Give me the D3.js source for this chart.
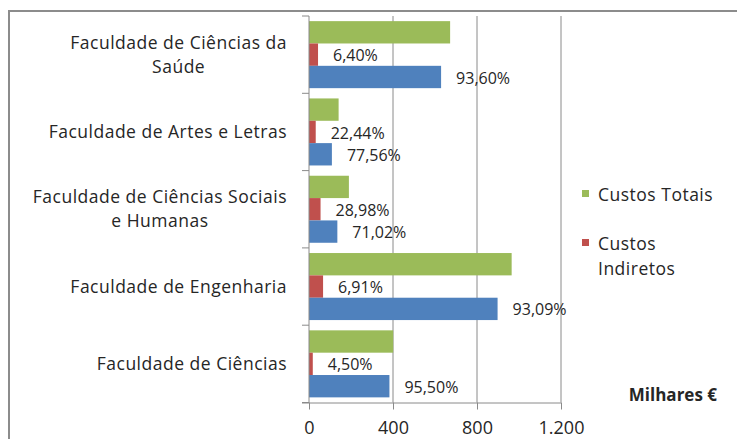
<!DOCTYPE html>
<html lang="pt">
  <head>
    <meta charset="utf-8" />
    <title>Custos por Faculdade</title>
    <script src="https://d3js.org/d3.v7.js"></script>
    <style>
      body { margin: 0; background: #fff; }
      text { font-family: "Open Sans", "Noto Sans", sans-serif; fill: #262626; }
    </style>
  </head>
  <body>
    <div id="graph"></div>
    <script>

    // data (milhares de euros)
    var categories = [
      ["Faculdade de Ciências da", "Saúde"],
      ["Faculdade de Artes e Letras"],
      ["Faculdade de Ciências Sociais", "e Humanas"],
      ["Faculdade de Engenharia"],
      ["Faculdade de Ciências"]
    ];
    var custosTotais = [672, 141, 190, 965, 401];
    var custosIndiretos = [43, 32, 55, 67, 18];
    var custosDiretos = [629, 109, 135, 898, 383];
    var pctIndiretos = [6.40, 22.44, 28.98, 6.91, 4.50];
    var pctDiretos = [93.60, 77.56, 71.02, 93.09, 95.50];
    var xTicks = [0, 400, 800, 1200];

    var w = 737, h = 439;
    var colors = {totais: "#9BBB59", indiretos: "#C0504D", diretos: "#4F81BD"};

    var pt = d3.formatLocale({decimal: ",", thousands: ".", grouping: [3], currency: ["", " €"]});
    var fmtTick = pt.format(",d");
    var fmtPct = pt.format(".2f");

    var svg = d3.select("#graph")
      .append("svg")
        .attr("width", w)
        .attr("height", h);

    // chart border (runs off the right and bottom edges)
    svg.append("rect")
      .attr("x", 9).attr("y", 11)
      .attr("width", 800).attr("height", 500)
      .attr("fill", "none")
      .attr("stroke", "#8c8c8c")
      .attr("stroke-width", 2);

    var keys = categories.map(c => c.join(" "));

    var x = d3.scaleLinear()
      .domain([0, 1200])
      .range([309, 561]);

    var y0 = d3.scaleBand()
      .domain(keys)
      .range([16, 402.5])
      .padding(0);

    var y1 = d3.scaleBand()
      .domain(["totais", "indiretos", "diretos"])
      .range([0, y0.bandwidth()])
      .paddingInner(0)
      .paddingOuter(0.23);

    // gridlines
    svg.append("g")
      .selectAll("line")
      .data(xTicks.filter(d => d > 0))
      .join("line")
        .attr("x1", d => x(d)).attr("x2", d => x(d))
        .attr("y1", y0.range()[0]).attr("y2", y0.range()[1])
        .attr("stroke", "#8a8a8a")
        .attr("stroke-width", 1);

    // bars
    var rows = keys.map((k, i) => ({
      key: k,
      values: [
        {s: "totais", v: custosTotais[i]},
        {s: "indiretos", v: custosIndiretos[i], pct: pctIndiretos[i]},
        {s: "diretos", v: custosDiretos[i], pct: pctDiretos[i]}
      ]
    }));

    var groups = svg.append("g")
      .selectAll("g")
      .data(rows)
      .join("g")
        .attr("transform", d => `translate(0,${y0(d.key)})`);

    groups.selectAll("rect")
      .data(d => d.values)
      .join("rect")
        .attr("x", x(0))
        .attr("y", d => y1(d.s))
        .attr("width", d => x(d.v) - x(0))
        .attr("height", y1.bandwidth())
        .attr("fill", d => colors[d.s]);

    groups.selectAll("text.pct")
      .data(d => d.values.filter(v => v.pct != null))
      .join("text")
        .attr("class", "pct")
        .attr("x", d => x(d.v) + 15)
        .attr("y", d => y1(d.s) + y1.bandwidth() / 2 + 1)
        .attr("dy", "0.35em")
        .style("font-size", "16px")
        .text(d => fmtPct(d.pct) + "%");

    // y axis line and ticks at band edges
    var yAxis = svg.append("g");
    yAxis.append("line")
      .attr("x1", x(0)).attr("x2", x(0))
      .attr("y1", y0.range()[0]).attr("y2", y0.range()[1])
      .attr("stroke", "#8a8a8a");
    yAxis.selectAll("line.tick")
      .data(keys.map(k => y0(k)).concat([y0.range()[1]]))
      .join("line")
        .attr("class", "tick")
        .attr("x1", x(0) - 7).attr("x2", x(0))
        .attr("y1", d => d).attr("y2", d => d)
        .attr("stroke", "#8a8a8a");

    // category labels
    var catLabels = svg.append("g")
      .selectAll("text")
      .data(categories)
      .join("text")
        .attr("text-anchor", "middle")
        .style("font-size", "17.5px")
        .style("letter-spacing", "0.5px");
    catLabels.each(function(lines, i) {
      var t = d3.select(this);
      var cy = y0(keys[i]) + y0.bandwidth() / 2;
      var lh = 24;
      lines.forEach((s, j) => {
        t.append("tspan")
          .attr("x", 0)
          .attr("y", cy + (j - (lines.length - 1) / 2) * lh)
          .attr("dy", "0.35em")
          .text(s);
      });
    });
    // right-align each block, keep lines centred inside it
    catLabels.each(function() {
      var bb = this.getBBox();
      d3.select(this).selectAll("tspan").attr("x", 287 - bb.width / 2);
    });

    // x axis
    var xAxis = svg.append("g")
      .attr("transform", `translate(0,${y0.range()[1]})`)
      .call(d3.axisBottom(x).tickValues(xTicks).tickSize(7).tickSizeOuter(0).tickFormat(fmtTick));
    xAxis.select(".domain").attr("stroke", "#8a8a8a").attr("d", `M${x(0) - 7},0.5H${x(1200)}`);
    xAxis.selectAll(".tick line").attr("stroke", "#8a8a8a");
    xAxis.selectAll(".tick text")
      .attr("y", 25)
      .attr("dy", "0.35em")
      .style("font-size", "18px")
      .style("font-family", "'Open Sans', 'Noto Sans', sans-serif")
      .attr("fill", "#262626");

    // legend
    var legendItems = [
      {s: "totais", lines: ["Custos Totais"], y: 193.5},
      {s: "indiretos", lines: ["Custos", "Indiretos"], y: 242.5}
    ];
    var legend = svg.append("g")
      .selectAll("g")
      .data(legendItems)
      .join("g");
    legend.append("rect")
      .attr("x", 582).attr("y", d => d.y - 3.5)
      .attr("width", 7).attr("height", 7)
      .attr("fill", d => colors[d.s]);
    legend.append("text")
      .style("font-size", "17.5px")
      .style("letter-spacing", "0.5px")
      .selectAll("tspan")
      .data(d => d.lines.map((l, j) => ({l: l, y: d.y + j * 25})))
      .join("tspan")
        .attr("x", 598)
        .attr("y", d => d.y + 1)
        .attr("dy", "0.35em")
        .text(d => d.l);

    // unit label
    svg.append("text")
      .attr("x", 717)
      .attr("y", 395)
      .attr("dy", "0.35em")
      .attr("text-anchor", "end")
      .style("font-size", "17px")
      .style("font-weight", "bold")
      .attr("fill", "#000")
      .text("Milhares €");

    </script>
  </body>
</html>
